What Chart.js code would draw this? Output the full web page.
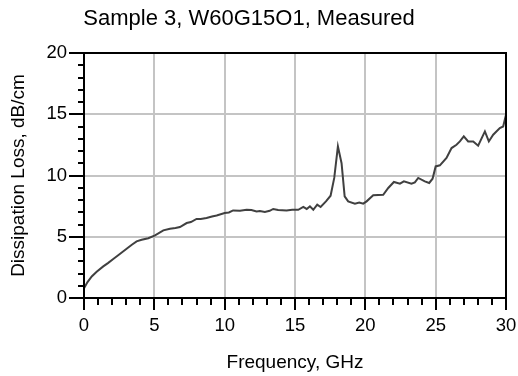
<!DOCTYPE html>
<html>
<head>
<meta charset="utf-8">
<script src="https://cdn.jsdelivr.net/npm/chart.js@4/dist/chart.umd.min.js"></script>
<style>
  html, body { margin: 0; padding: 0; background: #fff; }
  #wrap { width: 518px; height: 376px; }
</style>
</head>
<body>
<div id="wrap"><canvas id="chart" width="518" height="376"></canvas></div>
<script>
const TITLE = "Sample 3, W60G15O1, Measured";
const X_LABEL = "Frequency, GHz";
const Y_LABEL = "Dissipation Loss, dB/cm";

const freqGHz = [
  0, 0.25, 0.55, 0.9, 1.37, 1.7, 2.08, 2.5, 3.03, 3.4, 3.74, 4.1, 4.57, 5.05,
  5.64, 6.11, 6.5, 6.82, 7.3, 7.6, 8.0, 8.3, 8.71, 9.1, 9.43, 10.0, 10.3, 10.6,
  11.09, 11.56, 11.9, 12.27, 12.5, 12.86, 13.2, 13.45, 13.8, 14.4, 14.8, 15.23,
  15.59, 15.83, 16.06, 16.3, 16.58, 16.82, 17.2, 17.53, 17.79, 18.05, 18.31,
  18.53, 18.78, 19.26, 19.57, 19.85, 20.09, 20.56, 21.27, 21.63, 22.03, 22.46,
  22.74, 23.28, 23.52, 23.76, 24.23, 24.54, 24.78, 25.0, 25.3, 25.77, 26.13,
  26.48, 26.72, 27.0, 27.31, 27.67, 28.02, 28.5, 28.78, 29.09, 29.56, 29.8, 30.0
];
const lossDbPerCm = [
  0.8, 1.3, 1.76, 2.15, 2.58, 2.85, 3.18, 3.55, 4.02, 4.35, 4.62, 4.75, 4.88, 5.11,
  5.52, 5.66, 5.72, 5.79, 6.12, 6.2, 6.45, 6.45, 6.53, 6.65, 6.74, 6.94, 6.98, 7.15,
  7.13, 7.2, 7.18, 7.07, 7.1, 7.02, 7.12, 7.27, 7.18, 7.15, 7.2, 7.2,
  7.43, 7.27, 7.48, 7.2, 7.62, 7.43, 7.89, 8.35, 9.8, 12.38, 11.0,
  8.3, 7.89, 7.7, 7.8, 7.7, 7.89, 8.38, 8.43, 8.98, 9.47, 9.33,
  9.52, 9.33, 9.44, 9.8, 9.52, 9.39, 9.74, 10.74, 10.83, 11.43, 12.24,
  12.51, 12.78, 13.19, 12.78, 12.78, 12.43, 13.6, 12.78, 13.33, 13.88, 14.0, 14.96
];

const xTicks = [0, 5, 10, 15, 20, 25, 30];
const yTicks = [0, 5, 10, 15, 20];

const FONT = "'Liberation Sans', Arial, sans-serif";

// frame, minor ticks and title
const extras = {
  id: 'extras',
  afterDraw(chart) {
    const { ctx, chartArea: a, scales } = chart;
    ctx.save();
    ctx.strokeStyle = '#000';
    ctx.lineWidth = 2;
    ctx.strokeRect(a.left, a.top, a.right - a.left, a.bottom - a.top);

    ctx.beginPath();
    for (let v = 0; v <= 30; v++) {
      if (v % 5 === 0) continue;
      const px = Math.round(scales.x.getPixelForValue(v));
      ctx.moveTo(px, a.bottom);
      ctx.lineTo(px, a.bottom + 7);
    }
    for (let v = 0; v <= 20; v++) {
      if (v % 5 === 0) continue;
      const py = Math.round(scales.y.getPixelForValue(v));
      ctx.moveTo(a.left - 6, py);
      ctx.lineTo(a.left, py);
    }
    ctx.stroke();

    ctx.fillStyle = '#000';
    ctx.font = '22px ' + FONT;
    ctx.textAlign = 'center';
    ctx.textBaseline = 'alphabetic';
    ctx.fillText(TITLE, 249, 25);
    ctx.restore();
  }
};

new Chart(document.getElementById('chart'), {
  type: 'line',
  data: {
    datasets: [{
      data: freqGHz.map((f, i) => ({ x: f, y: lossDbPerCm[i] })),
      borderColor: '#404040',
      borderWidth: 2,
      pointRadius: 0,
      tension: 0,
      fill: false
    }]
  },
  options: {
    responsive: false,
    animation: false,
    layout: { padding: { top: 53, right: 12, left: 0, bottom: 0 } },
    plugins: { legend: { display: false }, tooltip: { enabled: false } },
    scales: {
      x: {
        type: 'linear',
        min: 0, max: 30,
        afterFit(s) { s.height = 78; s.paddingLeft = 0; s.paddingRight = 0; },
        afterBuildTicks(s) { s.ticks = xTicks.map(v => ({ value: v })); },
        ticks: { autoSkip: false, maxRotation: 0, color: '#000', padding: 5, font: { family: FONT, size: 18.5 } },
        grid: { color: '#c4c4c4', lineWidth: 2, tickLength: 12, tickColor: '#000', tickWidth: 2 },
        border: { color: '#000', width: 2 },
        title: { display: true, text: X_LABEL, color: '#000', font: { family: FONT, size: 19 }, padding: { top: 0, bottom: 2 } }
      },
      y: {
        min: 0, max: 20,
        afterFit(s) { s.width = 84; s.paddingTop = 0; s.paddingBottom = 0; },
        afterBuildTicks(s) { s.ticks = yTicks.map(v => ({ value: v })); },
        ticks: { color: '#000', padding: 2, font: { family: FONT, size: 18.5 } },
        grid: { color: '#c4c4c4', lineWidth: 2, tickLength: 15, tickColor: '#000', tickWidth: 2 },
        border: { color: '#000', width: 2 },
        title: { display: true, text: Y_LABEL, color: '#000', font: { family: FONT, size: 19 }, padding: { top: 7, bottom: 0 } }
      }
    }
  },
  plugins: [extras]
});
</script>
</body>
</html>
